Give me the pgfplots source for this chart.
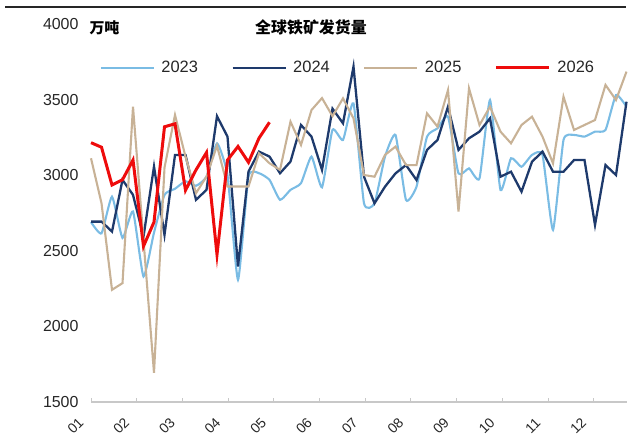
\documentclass[border=0pt]{standalone}
\usepackage{fontspec}
\setmainfont{Liberation Sans}
\newfontfamily\cjk{Noto Sans CJK SC}
\usepackage{pgfplots}
\pgfplotsset{compat=1.18}

\definecolor{c23}{RGB}{122,188,228}
\definecolor{c24}{RGB}{30,58,108}
\definecolor{c25}{RGB}{200,178,150}
\definecolor{c26}{RGB}{238,12,12}
\definecolor{axisgray}{RGB}{200,200,200}

\begin{document}
\begin{tikzpicture}[x=1bp,y=1bp]
\useasboundingbox (0,0) rectangle (630,441);
% top rule
\draw[line width=1.4bp, black!85] (5,434) -- (626,434);
% unit and title
\node[anchor=west, font=\cjk\bfseries\fontsize{15}{17}\selectfont] at (86,413) {万吨};
\node[font=\cjk\bfseries\fontsize{16}{19}\selectfont] at (311,414) {全球铁矿发货量};

\begin{axis}[
  at={(91bp,39bp)}, anchor=south west,
  scale only axis, width=535.5bp, height=378bp,
  xmin=1, xmax=52, ymin=1500, ymax=4000,
  axis x line*=bottom, axis y line*=left,
  x axis line style={draw=axisgray, line width=1.3bp},
  y axis line style={draw=none},
  xtick={1,5.352,9.705,14.057,18.41,22.762,27.114,31.467,35.819,40.171,44.524,48.876},
  xticklabels={01,02,03,04,05,06,07,08,09,10,11,12},
  ytick={1500,2000,2500,3000,3500,4000},
  /pgf/number format/assume math mode=true,
  /pgf/number format/1000 sep={},
  tick align=inside,
  major tick length=4bp,
  xtick style={draw=axisgray, line width=1bp},
  ytick style={draw=none},
  % shifts act along the rotated label axes
  xticklabel style={rotate=45, anchor=east, inner sep=0.5bp, font=\fontsize{14}{15}\selectfont, color=black!85, xshift=-19.5bp, yshift=-6bp},
  yticklabel style={font=\fontsize{16}{18}\selectfont, color=black!85, xshift=-9bp},
  clip=false,
  legend columns=4,
  legend style={draw=none, fill=none, at={(0.016,0.884)}, anchor=west,
    inner sep=0pt, nodes={inner sep=1.5bp},
    font=\fontsize{16.5}{19}\selectfont, text=black!85,
    /tikz/every odd column/.append style={column sep=5bp},
    /tikz/every even column/.append style={column sep=32bp}},
  legend image code/.code={\draw[#1] (0bp,0bp) -- (53bp,0bp);},
]
\addplot[c23, line width=2.1bp, smooth, tension=0.3] coordinates {
(1,2690) (2,2615) (3,2858) (4,2585) (5,2760) (6,2330) (7,2620) (8,2870)
(9,2910) (10,2960) (11,2930) (12,2990) (13,3210) (14,3000) (15,2308) (16,2991)
(17,3013) (18,2969) (19,2837) (20,2903) (21,2947) (22,3123) (23,2920) (24,3300)
(25,3233) (26,3475) (27,2814) (28,2814) (29,3123) (30,3266) (31,2836) (32,2924)
(33,3255) (34,3310) (35,3387) (36,3012) (37,3045) (38,2979) (39,3497) (40,2902)
(41,3112) (42,3056) (43,3134) (44,3134) (45,2638) (46,3233) (47,3266) (48,3255)
(49,3288) (50,3299) (51,3530) (52,3453)};
\addlegendentry{2023}
\addplot[c24, line width=2.3bp] coordinates {
(1,2693) (2,2693) (3,2627) (4,2969) (5,2870) (6,2594) (7,3057) (8,2605)
(9,3134) (10,3134) (11,2837) (12,2903) (13,3390) (14,3255) (15,2396) (16,3024)
(17,3156) (18,3123) (19,3013) (20,3090) (21,3332) (22,3255) (23,3035) (24,3440)
(25,3343) (26,3718) (27,2990) (28,2814) (29,2924) (30,3012) (31,3067) (32,2968)
(33,3167) (34,3233) (35,3453) (36,3167) (37,3244) (38,3288) (39,3376) (40,2990)
(41,3023) (42,2891) (43,3089) (44,3156) (45,3023) (46,3023) (47,3100) (48,3100)
(49,2671) (50,3067) (51,3001) (52,3486)};
\addlegendentry{2024}
\addplot[c25, line width=2.1bp] coordinates {
(1,3112) (2,2815) (3,2242) (4,2286) (5,3453) (6,2570) (7,1693) (8,3050)
(9,3398) (10,3123) (11,2881) (12,2991) (13,3195) (14,2925) (15,2925) (16,2925)
(17,3145) (18,3079) (19,3035) (20,3354) (21,3200) (22,3431) (23,3510) (24,3390)
(25,3508) (26,3376) (27,3001) (28,2990) (29,3134) (30,3189) (31,3067) (32,3067)
(33,3409) (34,3321) (35,3563) (36,2759) (37,3574) (38,3332) (39,3453) (40,3288)
(41,3211) (42,3332) (43,3387) (44,3255) (45,3078) (46,3519) (47,3299) (48,3332)
(49,3365) (50,3597) (51,3497) (52,3685)};
\addlegendentry{2025}
\addplot[c26, line width=3bp] coordinates {
(1,3215) (2,3185) (3,2935) (4,2970) (5,3100) (6,2530) (7,2690) (8,3320)
(9,3340) (10,2900) (11,3035) (12,3150) (13,2475) (14,3100) (15,3190) (16,3085)
(17,3245) (18,3350)};
\addlegendentry{2026}
\end{axis}
\end{tikzpicture}
\end{document}
